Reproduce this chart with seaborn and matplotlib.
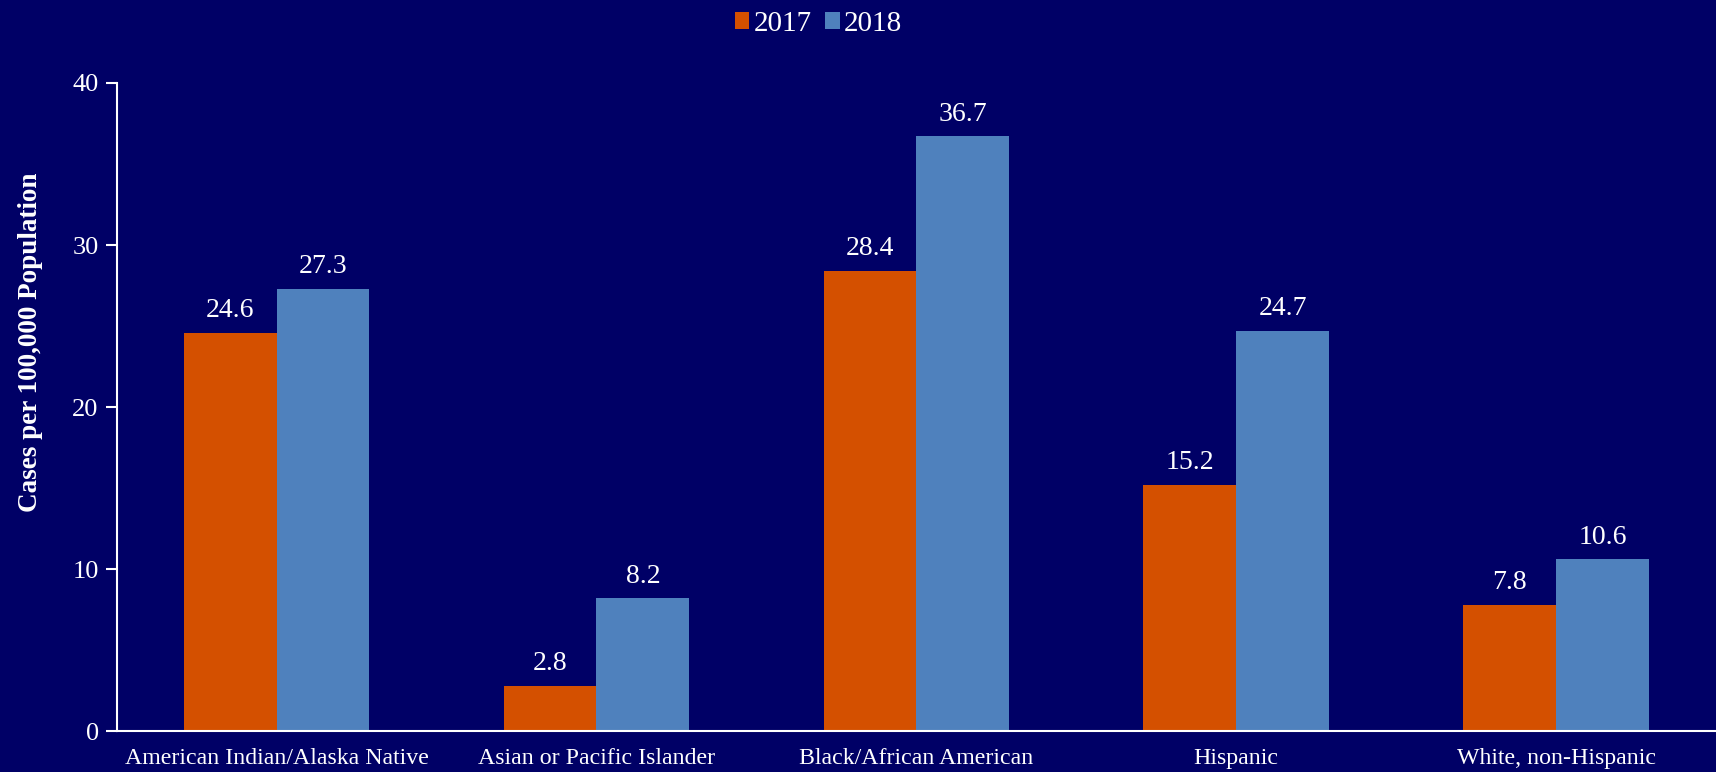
import matplotlib
matplotlib.use("Agg")
import matplotlib.pyplot as plt
import seaborn as sns
import pandas as pd
from matplotlib.patches import Patch

categories = ["American Indian/Alaska Native", "Asian or Pacific Islander",
              "Black/African American", "Hispanic", "White, non-Hispanic"]
years = ["2017", "2018"]
values_2017 = [24.6, 2.8, 28.4, 15.2, 7.8]
values_2018 = [27.3, 8.2, 36.7, 24.7, 10.6]
yticks = [0, 10, 20, 30, 40]

df = pd.DataFrame({
    "category": categories * 2,
    "year": [years[0]] * len(categories) + [years[1]] * len(categories),
    "value": values_2017 + values_2018,
})

bg = "#000066"
colors = {"2017": "#D45000", "2018": "#4F81BD"}

sns.set_theme(style="white")
plt.rcParams["font.family"] = ["Liberation Serif", "DejaVu Serif"]

fig = plt.figure(figsize=(17.16, 7.72), dpi=100, facecolor=bg)
ax = fig.add_axes([0.068, 0.053, 0.932, 0.8395])
ax.set_facecolor(bg)

sns.barplot(data=df, x="category", y="value", hue="year", palette=colors,
            width=0.58, saturation=1, ax=ax, legend=False, linewidth=0,
            edgecolor="none")

for cont in ax.containers:
    ax.bar_label(cont, fmt="%.1f", padding=7, color="white", fontsize=20)

ax.set_ylim(0, 40)
ax.set_xlim(-0.5, 4.5)
ax.set_yticks(yticks)
ax.set_yticklabels([str(t) for t in yticks])
ax.set_xlabel("")
ax.set_ylabel("Cases per 100,000 Population", color="white", fontsize=19.5,
              fontweight="bold")
ax.yaxis.set_label_coords(-0.046, 0.60)
ax.tick_params(axis="y", colors="white", labelsize=19, length=8, width=1.5,
               direction="out", left=True, pad=5)
ax.tick_params(axis="x", colors="white", labelsize=17.2, length=0, pad=12)
for s in ["top", "right"]:
    ax.spines[s].set_visible(False)
for s in ["left", "bottom"]:
    ax.spines[s].set_color("white")
    ax.spines[s].set_linewidth(1.5)

handles = [Patch(facecolor=colors[y], edgecolor="none") for y in years]
fig.legend(handles, years, loc="upper center", bbox_to_anchor=(0.477, 1.02),
           ncol=2, frameon=False, fontsize=21, labelcolor="white",
           handlelength=0.5, handleheight=0.5, handletextpad=0.15,
           columnspacing=0.45)

fig.savefig("out.png", dpi=100, facecolor=bg)
